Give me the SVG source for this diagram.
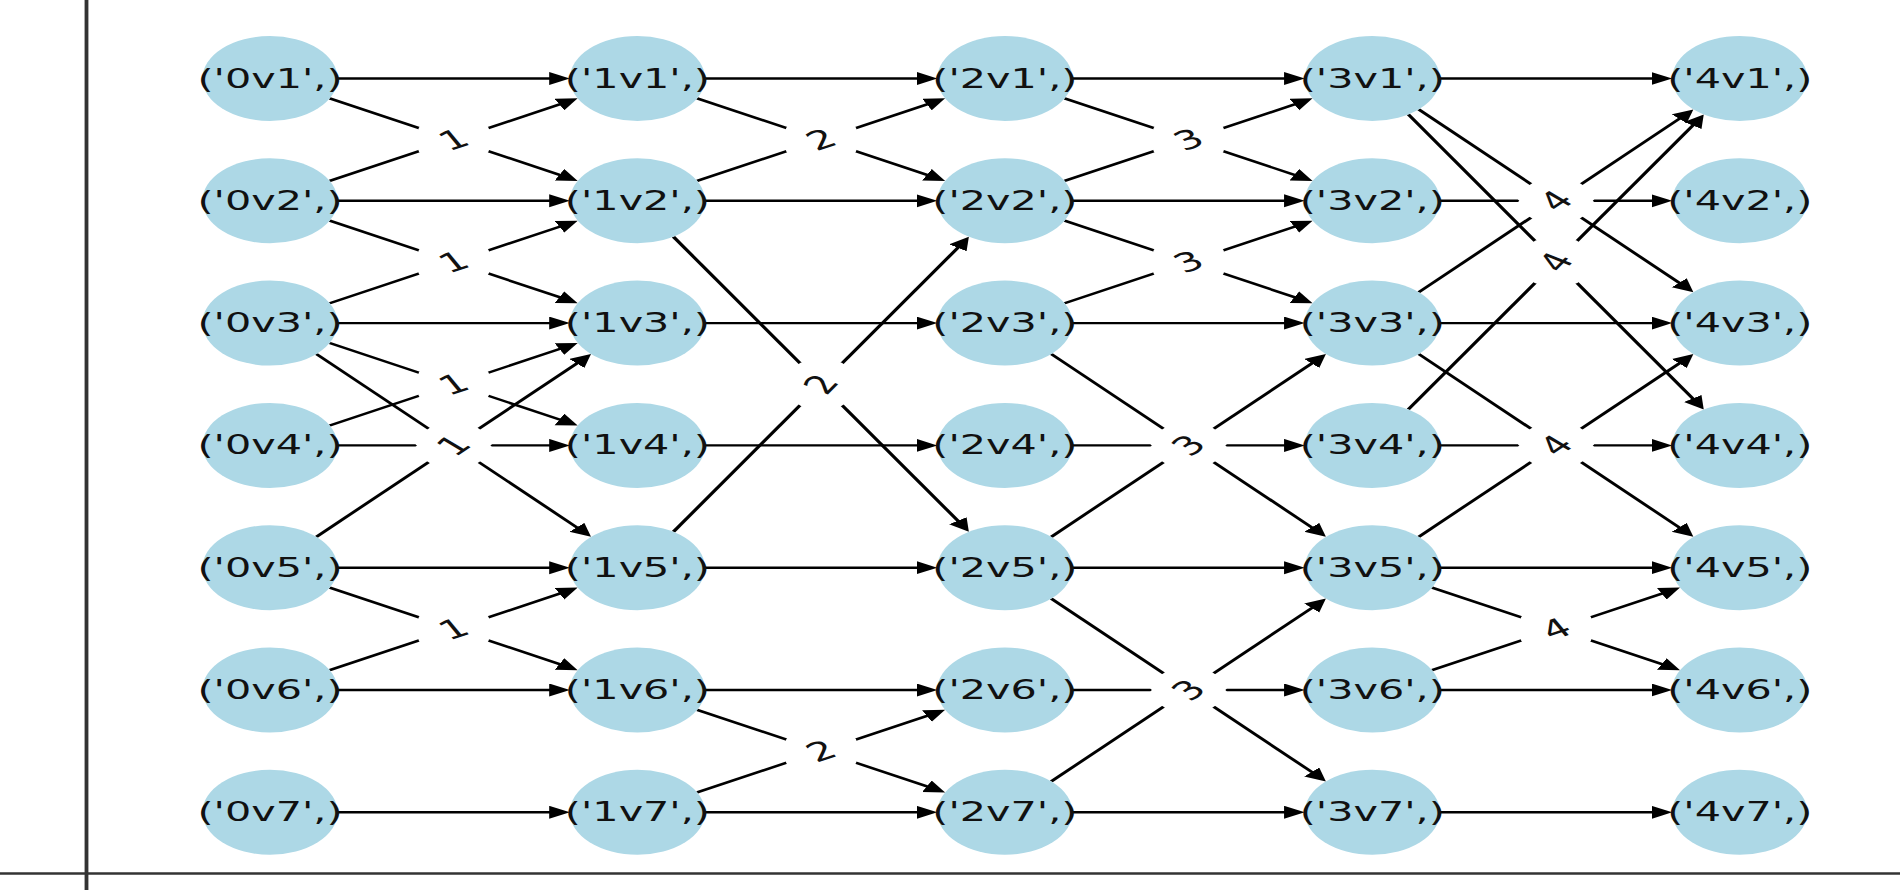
<svg xmlns="http://www.w3.org/2000/svg" xmlns:xlink="http://www.w3.org/1999/xlink" width="1900" height="890" viewBox="0 0 1900 890">
<style>
.ax{stroke:#333;stroke-width:2.4;fill:none}
.e{stroke:#000;stroke-width:2.4;fill:none;marker-end:url(#ah)}
.nd{fill:#ADD8E6}
.nt{font-family:"DejaVu Sans",sans-serif;font-size:26px;text-anchor:middle;dominant-baseline:central;fill:#111}
.lt{font-family:"DejaVu Sans",sans-serif;font-size:26px;text-anchor:middle;dominant-baseline:central;fill:#111}
</style>
<defs>
<marker id="ah" markerUnits="userSpaceOnUse" markerWidth="14" markerHeight="14" refX="7" refY="6.5" orient="auto"><path d="M0,0L13,6.5L0,13z" fill="#000"/></marker>
<rect id="lb" x="-16.1" y="-23" width="32.2" height="46" rx="7.8" fill="#fff"/>
</defs>
<rect width="1900" height="890" fill="#fff"/>
<g transform="scale(1.59,1)">
<g id="axes">
<line class="ax" x1="54.4" y1="0" x2="54.4" y2="890"/>
<line class="ax" x1="0" y1="873.5" x2="1200" y2="873.5"/>
</g>
<g id="edges">
<line class="e" x1="212.3" y1="78.5" x2="352.4" y2="78.5"/>
<line class="e" x1="212.3" y1="200.8" x2="352.4" y2="200.8"/>
<line class="e" x1="212.3" y1="323.1" x2="352.4" y2="323.1"/>
<line class="e" x1="212.3" y1="445.4" x2="352.4" y2="445.4"/>
<line class="e" x1="212.3" y1="567.7" x2="352.4" y2="567.7"/>
<line class="e" x1="212.3" y1="690" x2="352.4" y2="690"/>
<line class="e" x1="212.3" y1="812.3" x2="352.4" y2="812.3"/>
<line class="e" x1="207.36" y1="98.38" x2="358.04" y2="178.12"/>
<line class="e" x1="207.36" y1="180.92" x2="358.04" y2="101.18"/>
<line class="e" x1="207.36" y1="220.68" x2="358.04" y2="300.42"/>
<line class="e" x1="207.36" y1="303.22" x2="358.04" y2="223.48"/>
<line class="e" x1="207.36" y1="342.98" x2="358.04" y2="422.72"/>
<line class="e" x1="207.36" y1="425.52" x2="358.04" y2="345.78"/>
<line class="e" x1="198.99" y1="353.99" x2="367.59" y2="532.45"/>
<line class="e" x1="198.99" y1="536.81" x2="367.59" y2="358.35"/>
<line class="e" x1="207.36" y1="587.58" x2="358.04" y2="667.32"/>
<line class="e" x1="207.36" y1="670.12" x2="358.04" y2="590.38"/>

<line class="e" x1="443.4" y1="78.5" x2="583.5" y2="78.5"/>
<line class="e" x1="443.4" y1="200.8" x2="583.5" y2="200.8"/>
<line class="e" x1="443.4" y1="323.1" x2="583.5" y2="323.1"/>
<line class="e" x1="443.4" y1="445.4" x2="583.5" y2="445.4"/>
<line class="e" x1="443.4" y1="567.7" x2="583.5" y2="567.7"/>
<line class="e" x1="443.4" y1="690" x2="583.5" y2="690"/>
<line class="e" x1="443.4" y1="812.3" x2="583.5" y2="812.3"/>
<line class="e" x1="438.46" y1="98.38" x2="589.14" y2="178.12"/>
<line class="e" x1="438.46" y1="180.92" x2="589.14" y2="101.18"/>
<line class="e" x1="423.55" y1="236.76" x2="606.15" y2="526.66"/>
<line class="e" x1="423.55" y1="531.74" x2="606.15" y2="241.84"/>
<line class="e" x1="438.46" y1="709.88" x2="589.14" y2="789.62"/>
<line class="e" x1="438.46" y1="792.42" x2="589.14" y2="712.68"/>

<line class="e" x1="674.5" y1="78.5" x2="814.6" y2="78.5"/>
<line class="e" x1="674.5" y1="200.8" x2="814.6" y2="200.8"/>
<line class="e" x1="674.5" y1="323.1" x2="814.6" y2="323.1"/>
<line class="e" x1="674.5" y1="445.4" x2="814.6" y2="445.4"/>
<line class="e" x1="674.5" y1="567.7" x2="814.6" y2="567.7"/>
<line class="e" x1="674.5" y1="690" x2="814.6" y2="690"/>
<line class="e" x1="674.5" y1="812.3" x2="814.6" y2="812.3"/>
<line class="e" x1="669.56" y1="98.38" x2="820.24" y2="178.12"/>
<line class="e" x1="669.56" y1="180.92" x2="820.24" y2="101.18"/>
<line class="e" x1="669.56" y1="220.68" x2="820.24" y2="300.42"/>
<line class="e" x1="669.56" y1="303.22" x2="820.24" y2="223.48"/>
<line class="e" x1="661.19" y1="353.99" x2="829.79" y2="532.45"/>
<line class="e" x1="661.19" y1="536.81" x2="829.79" y2="358.35"/>
<line class="e" x1="661.19" y1="598.59" x2="829.79" y2="777.05"/>
<line class="e" x1="661.19" y1="781.41" x2="829.79" y2="602.95"/>

<line class="e" x1="905.6" y1="78.5" x2="1045.7" y2="78.5"/>
<line class="e" x1="905.6" y1="200.8" x2="1045.7" y2="200.8"/>
<line class="e" x1="905.6" y1="323.1" x2="1045.7" y2="323.1"/>
<line class="e" x1="905.6" y1="445.4" x2="1045.7" y2="445.4"/>
<line class="e" x1="905.6" y1="567.7" x2="1045.7" y2="567.7"/>
<line class="e" x1="905.6" y1="690" x2="1045.7" y2="690"/>
<line class="e" x1="905.6" y1="812.3" x2="1045.7" y2="812.3"/>
<line class="e" x1="892.29" y1="109.39" x2="1060.89" y2="287.85"/>
<line class="e" x1="892.29" y1="292.21" x2="1060.89" y2="113.75"/>
<line class="e" x1="885.75" y1="114.46" x2="1068.35" y2="404.36"/>
<line class="e" x1="885.75" y1="409.44" x2="1068.35" y2="119.54"/>
<line class="e" x1="892.29" y1="353.99" x2="1060.89" y2="532.45"/>
<line class="e" x1="892.29" y1="536.81" x2="1060.89" y2="358.35"/>
<line class="e" x1="900.66" y1="587.58" x2="1051.34" y2="667.32"/>
<line class="e" x1="900.66" y1="670.12" x2="1051.34" y2="590.38"/>
</g>
<g id="n0v1"><circle class="nd" cx="169.8" cy="78.5" r="42.5"/><text class="nt" x="169.8" y="78.5">('0v1',)</text></g>
<g id="n0v2"><circle class="nd" cx="169.8" cy="200.8" r="42.5"/><text class="nt" x="169.8" y="200.8">('0v2',)</text></g>
<g id="n0v3"><circle class="nd" cx="169.8" cy="323.1" r="42.5"/><text class="nt" x="169.8" y="323.1">('0v3',)</text></g>
<g id="n0v4"><circle class="nd" cx="169.8" cy="445.4" r="42.5"/><text class="nt" x="169.8" y="445.4">('0v4',)</text></g>
<g id="n0v5"><circle class="nd" cx="169.8" cy="567.7" r="42.5"/><text class="nt" x="169.8" y="567.7">('0v5',)</text></g>
<g id="n0v6"><circle class="nd" cx="169.8" cy="690" r="42.5"/><text class="nt" x="169.8" y="690">('0v6',)</text></g>
<g id="n0v7"><circle class="nd" cx="169.8" cy="812.3" r="42.5"/><text class="nt" x="169.8" y="812.3">('0v7',)</text></g>
<g id="n1v1"><circle class="nd" cx="400.9" cy="78.5" r="42.5"/><text class="nt" x="400.9" y="78.5">('1v1',)</text></g>
<g id="n1v2"><circle class="nd" cx="400.9" cy="200.8" r="42.5"/><text class="nt" x="400.9" y="200.8">('1v2',)</text></g>
<g id="n1v3"><circle class="nd" cx="400.9" cy="323.1" r="42.5"/><text class="nt" x="400.9" y="323.1">('1v3',)</text></g>
<g id="n1v4"><circle class="nd" cx="400.9" cy="445.4" r="42.5"/><text class="nt" x="400.9" y="445.4">('1v4',)</text></g>
<g id="n1v5"><circle class="nd" cx="400.9" cy="567.7" r="42.5"/><text class="nt" x="400.9" y="567.7">('1v5',)</text></g>
<g id="n1v6"><circle class="nd" cx="400.9" cy="690" r="42.5"/><text class="nt" x="400.9" y="690">('1v6',)</text></g>
<g id="n1v7"><circle class="nd" cx="400.9" cy="812.3" r="42.5"/><text class="nt" x="400.9" y="812.3">('1v7',)</text></g>
<g id="n2v1"><circle class="nd" cx="632" cy="78.5" r="42.5"/><text class="nt" x="632" y="78.5">('2v1',)</text></g>
<g id="n2v2"><circle class="nd" cx="632" cy="200.8" r="42.5"/><text class="nt" x="632" y="200.8">('2v2',)</text></g>
<g id="n2v3"><circle class="nd" cx="632" cy="323.1" r="42.5"/><text class="nt" x="632" y="323.1">('2v3',)</text></g>
<g id="n2v4"><circle class="nd" cx="632" cy="445.4" r="42.5"/><text class="nt" x="632" y="445.4">('2v4',)</text></g>
<g id="n2v5"><circle class="nd" cx="632" cy="567.7" r="42.5"/><text class="nt" x="632" y="567.7">('2v5',)</text></g>
<g id="n2v6"><circle class="nd" cx="632" cy="690" r="42.5"/><text class="nt" x="632" y="690">('2v6',)</text></g>
<g id="n2v7"><circle class="nd" cx="632" cy="812.3" r="42.5"/><text class="nt" x="632" y="812.3">('2v7',)</text></g>
<g id="n3v1"><circle class="nd" cx="863.1" cy="78.5" r="42.5"/><text class="nt" x="863.1" y="78.5">('3v1',)</text></g>
<g id="n3v2"><circle class="nd" cx="863.1" cy="200.8" r="42.5"/><text class="nt" x="863.1" y="200.8">('3v2',)</text></g>
<g id="n3v3"><circle class="nd" cx="863.1" cy="323.1" r="42.5"/><text class="nt" x="863.1" y="323.1">('3v3',)</text></g>
<g id="n3v4"><circle class="nd" cx="863.1" cy="445.4" r="42.5"/><text class="nt" x="863.1" y="445.4">('3v4',)</text></g>
<g id="n3v5"><circle class="nd" cx="863.1" cy="567.7" r="42.5"/><text class="nt" x="863.1" y="567.7">('3v5',)</text></g>
<g id="n3v6"><circle class="nd" cx="863.1" cy="690" r="42.5"/><text class="nt" x="863.1" y="690">('3v6',)</text></g>
<g id="n3v7"><circle class="nd" cx="863.1" cy="812.3" r="42.5"/><text class="nt" x="863.1" y="812.3">('3v7',)</text></g>
<g id="n4v1"><circle class="nd" cx="1094.2" cy="78.5" r="42.5"/><text class="nt" x="1094.2" y="78.5">('4v1',)</text></g>
<g id="n4v2"><circle class="nd" cx="1094.2" cy="200.8" r="42.5"/><text class="nt" x="1094.2" y="200.8">('4v2',)</text></g>
<g id="n4v3"><circle class="nd" cx="1094.2" cy="323.1" r="42.5"/><text class="nt" x="1094.2" y="323.1">('4v3',)</text></g>
<g id="n4v4"><circle class="nd" cx="1094.2" cy="445.4" r="42.5"/><text class="nt" x="1094.2" y="445.4">('4v4',)</text></g>
<g id="n4v5"><circle class="nd" cx="1094.2" cy="567.7" r="42.5"/><text class="nt" x="1094.2" y="567.7">('4v5',)</text></g>
<g id="n4v6"><circle class="nd" cx="1094.2" cy="690" r="42.5"/><text class="nt" x="1094.2" y="690">('4v6',)</text></g>
<g id="n4v7"><circle class="nd" cx="1094.2" cy="812.3" r="42.5"/><text class="nt" x="1094.2" y="812.3">('4v7',)</text></g>
<g id="edge-labels">
<use xlink:href="#lb" transform="translate(285.35,139.65) rotate(27.89)"/><use xlink:href="#lb" transform="translate(285.35,139.65) rotate(-27.89)"/>
<use xlink:href="#lb" transform="translate(285.35,261.95) rotate(27.89)"/><use xlink:href="#lb" transform="translate(285.35,261.95) rotate(-27.89)"/>
<use xlink:href="#lb" transform="translate(285.35,384.25) rotate(27.89)"/><use xlink:href="#lb" transform="translate(285.35,384.25) rotate(-27.89)"/>
<use xlink:href="#lb" transform="translate(285.35,445.4) rotate(46.63)"/><use xlink:href="#lb" transform="translate(285.35,445.4) rotate(-46.63)"/>
<use xlink:href="#lb" transform="translate(285.35,628.85) rotate(27.89)"/><use xlink:href="#lb" transform="translate(285.35,628.85) rotate(-27.89)"/>
<use xlink:href="#lb" transform="translate(516.45,139.65) rotate(27.89)"/><use xlink:href="#lb" transform="translate(516.45,139.65) rotate(-27.89)"/>
<use xlink:href="#lb" transform="translate(516.45,384.25) rotate(57.79)"/><use xlink:href="#lb" transform="translate(516.45,384.25) rotate(-57.79)"/>
<use xlink:href="#lb" transform="translate(516.45,751.15) rotate(27.89)"/><use xlink:href="#lb" transform="translate(516.45,751.15) rotate(-27.89)"/>
<use xlink:href="#lb" transform="translate(747.55,139.65) rotate(27.89)"/><use xlink:href="#lb" transform="translate(747.55,139.65) rotate(-27.89)"/>
<use xlink:href="#lb" transform="translate(747.55,261.95) rotate(27.89)"/><use xlink:href="#lb" transform="translate(747.55,261.95) rotate(-27.89)"/>
<use xlink:href="#lb" transform="translate(747.55,445.4) rotate(46.63)"/><use xlink:href="#lb" transform="translate(747.55,445.4) rotate(-46.63)"/>
<use xlink:href="#lb" transform="translate(747.55,690) rotate(46.63)"/><use xlink:href="#lb" transform="translate(747.55,690) rotate(-46.63)"/>
<use xlink:href="#lb" transform="translate(978.65,200.8) rotate(46.63)"/><use xlink:href="#lb" transform="translate(978.65,200.8) rotate(-46.63)"/>
<use xlink:href="#lb" transform="translate(978.65,261.95) rotate(57.79)"/><use xlink:href="#lb" transform="translate(978.65,261.95) rotate(-57.79)"/>
<use xlink:href="#lb" transform="translate(978.65,445.4) rotate(46.63)"/><use xlink:href="#lb" transform="translate(978.65,445.4) rotate(-46.63)"/>
<use xlink:href="#lb" transform="translate(978.65,628.85) rotate(27.89)"/><use xlink:href="#lb" transform="translate(978.65,628.85) rotate(-27.89)"/>
<text class="lt" transform="translate(285.35,139.65) rotate(-27.89)">1</text>
<text class="lt" transform="translate(285.35,261.95) rotate(-27.89)">1</text>
<text class="lt" transform="translate(285.35,384.25) rotate(-27.89)">1</text>
<text class="lt" transform="translate(285.35,445.4) rotate(-46.63)">1</text>
<text class="lt" transform="translate(285.35,628.85) rotate(-27.89)">1</text>
<text class="lt" transform="translate(516.45,139.65) rotate(-27.89)">2</text>
<text class="lt" transform="translate(516.45,384.25) rotate(-57.79)">2</text>
<text class="lt" transform="translate(516.45,751.15) rotate(-27.89)">2</text>
<text class="lt" transform="translate(747.55,139.65) rotate(-27.89)">3</text>
<text class="lt" transform="translate(747.55,261.95) rotate(-27.89)">3</text>
<text class="lt" transform="translate(747.55,445.4) rotate(-46.63)">3</text>
<text class="lt" transform="translate(747.55,690) rotate(-46.63)">3</text>
<text class="lt" transform="translate(978.65,200.8) rotate(-46.63)">4</text>
<text class="lt" transform="translate(978.65,261.95) rotate(-57.79)">4</text>
<text class="lt" transform="translate(978.65,445.4) rotate(-46.63)">4</text>
<text class="lt" transform="translate(978.65,628.85) rotate(-27.89)">4</text>
</g>
</g>
</svg>
